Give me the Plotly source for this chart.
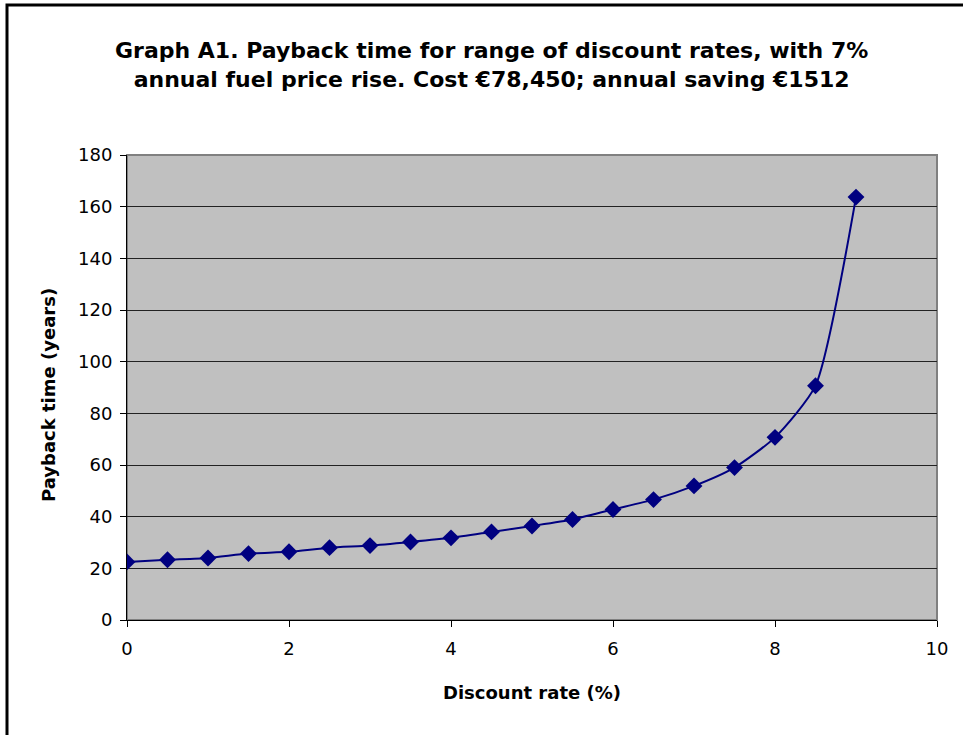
import plotly.graph_objects as go

# Discount rate (%) and resulting payback time (years)
discount_rate = [0, 0.5, 1, 1.5, 2, 2.5, 3, 3.5, 4, 4.5, 5, 5.5, 6, 6.5, 7, 7.5, 8, 8.5, 9]
payback_years = [22.5, 23.3, 24.0, 25.7, 26.4, 28.0, 28.8, 30.2, 31.8, 34.1,
                 36.4, 38.9, 42.8, 46.6, 51.9, 59.0, 70.7, 90.7, 163.7]

title_lines = ["Graph A1. Payback time for range of discount rates, with 7%",
               "annual fuel price rise. Cost \u20ac78,450; annual saving \u20ac1512"]
x_title = "Discount rate (%)"
y_title = "Payback time (years)"

W, H = 963, 735
L, R, T, B = 127, 26, 155, 115
pw, ph = W - L - R, H - T - B


def px_x(px):
    return (px - L) / pw


def px_y(py):
    return (H - B - py) / ph


FONT = "DejaVu Sans, Verdana, sans-serif"
NAVY = "#000080"

fig = go.Figure(go.Scatter(
    x=discount_rate, y=payback_years,
    mode="lines+markers",
    line=dict(color=NAVY, width=2, shape="spline", smoothing=0.6),
    marker=dict(symbol="diamond", size=13, color=NAVY),
    showlegend=False,
))

fig.update_layout(
    width=W, height=H,
    margin=dict(l=L, r=R, t=T, b=B),
    paper_bgcolor="white",
    plot_bgcolor="#C0C0C0",
    font=dict(family=FONT, size=18, color="black"),
    xaxis=dict(range=[0, 10], dtick=2, tick0=0, showgrid=False, zeroline=False,
               showline=True, linecolor="black", linewidth=1,
               ticks="outside", ticklen=6, tickcolor="black",
               ticklabelstandoff=6, tickfont=dict(size=18)),
    yaxis=dict(range=[0, 180], dtick=20, tick0=0, showgrid=True,
               gridcolor="#222222", gridwidth=1, zeroline=False,
               showline=True, linecolor="black", linewidth=1,
               ticks="outside", ticklen=6, tickcolor="black",
               ticklabelstandoff=4, tickfont=dict(size=18)),
)

shapes = [
    # gray frame around the plotting area
    dict(type="rect", xref="paper", yref="paper", x0=0, y0=0, x1=1, y1=1,
         line=dict(color="#808080", width=2), layer="below"),
    # outer chart border
    dict(type="rect", xref="paper", yref="paper",
         x0=px_x(7), y0=px_y(760), x1=px_x(990), y1=px_y(5),
         line=dict(color="black", width=3)),
]
fig.update_layout(shapes=shapes)

annotations = [
    dict(text=title_lines[0] + "<br>" + title_lines[1], xref="paper", yref="paper",
         x=px_x(491), y=px_y(65), xanchor="center", yanchor="middle",
         showarrow=False, align="center",
         font=dict(family=FONT, size=22, color="black", weight="bold")),
    dict(text=x_title, xref="paper", yref="paper",
         x=px_x(532), y=px_y(692), xanchor="center", yanchor="middle",
         showarrow=False, font=dict(family=FONT, size=18, weight="bold")),
    dict(text=y_title, xref="paper", yref="paper",
         x=px_x(48), y=px_y(395), xanchor="center", yanchor="middle",
         showarrow=False, textangle=-90, font=dict(family=FONT, size=18, weight="bold")),
]
fig.update_layout(annotations=annotations)

fig.write_html("out.html")
